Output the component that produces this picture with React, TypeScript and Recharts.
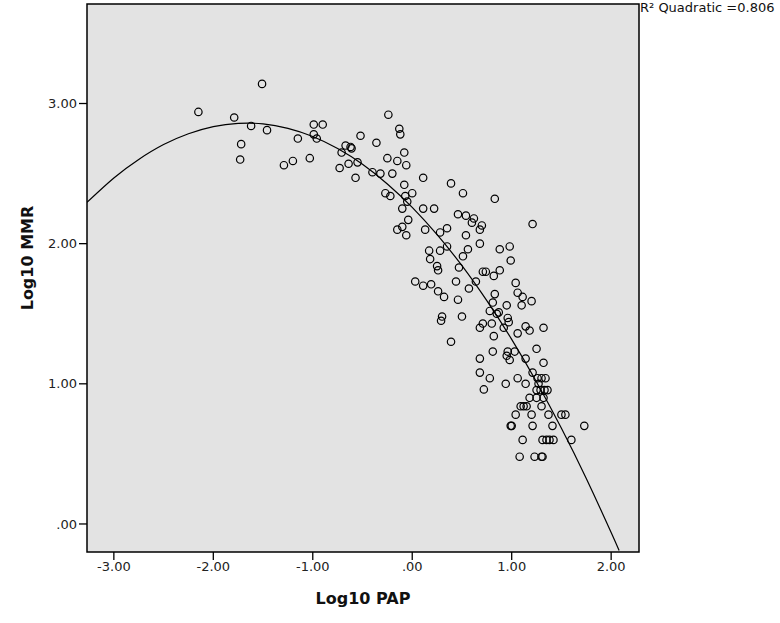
import {
  ComposedChart,
  CartesianGrid,
  XAxis,
  YAxis,
  Scatter,
  Line,
  ReferenceArea,
  Label,
} from "recharts";

// Log10 PAP vs Log10 MMR, with the quadratic fit line (R² = 0.806).

const PAP_MMR: [number, number][] = [
  [-2.15, 2.94], [-1.79, 2.9], [-1.62, 2.84], [-1.51, 3.14], [-1.46, 2.81],
  [-1.72, 2.71], [-1.73, 2.6], [-1.29, 2.56], [-1.2, 2.59], [-1.03, 2.61],
  [-1.15, 2.75], [-0.99, 2.85], [-0.9, 2.85], [-0.99, 2.78], [-0.96, 2.75],
  [-0.24, 2.92], [-0.13, 2.82], [-0.12, 2.78], [-0.52, 2.77], [-0.36, 2.72],
  [-0.67, 2.7], [-0.62, 2.69], [-0.61, 2.68], [-0.71, 2.65], [-0.08, 2.65],
  [-0.25, 2.61], [-0.15, 2.59], [-0.06, 2.56], [-0.64, 2.57], [-0.55, 2.58],
  [-0.73, 2.54], [-0.4, 2.51], [-0.32, 2.5], [-0.2, 2.5], [-0.57, 2.47],
  [0.11, 2.47], [0.39, 2.43], [-0.08, 2.42], [0.51, 2.36], [0.0, 2.36],
  [-0.27, 2.36], [-0.22, 2.34], [-0.07, 2.34], [0.83, 2.32], [-0.05, 2.3],
  [-0.1, 2.25], [0.11, 2.25], [0.22, 2.25], [0.46, 2.21], [0.54, 2.2],
  [0.62, 2.18], [0.6, 2.15], [0.7, 2.13], [0.68, 2.1], [-0.04, 2.17],
  [-0.1, 2.12], [-0.15, 2.1], [-0.06, 2.06], [0.13, 2.1], [0.28, 2.08],
  [0.35, 2.11], [0.54, 2.06], [0.68, 2.0], [0.35, 1.98], [0.88, 1.96],
  [0.98, 1.98], [0.99, 1.88], [0.56, 1.96], [0.17, 1.95], [0.28, 1.95],
  [0.18, 1.89], [0.51, 1.91], [0.47, 1.83], [0.25, 1.84], [0.26, 1.81],
  [0.71, 1.8], [0.74, 1.8], [0.88, 1.81], [0.82, 1.77],
  [1.21, 2.14], [0.03, 1.73], [0.11, 1.7], [0.19, 1.71], [0.44, 1.73],
  [0.64, 1.73], [0.57, 1.68], [0.26, 1.66], [0.32, 1.62], [0.46, 1.6],
  [0.83, 1.64], [1.04, 1.72], [1.06, 1.65], [1.11, 1.62], [1.2, 1.59],
  [0.81, 1.58], [0.95, 1.56], [1.1, 1.56], [0.78, 1.52], [0.85, 1.5],
  [0.87, 1.51], [0.96, 1.47], [0.97, 1.44], [0.8, 1.43], [0.71, 1.43],
  [0.68, 1.4], [0.92, 1.4], [1.14, 1.41], [1.18, 1.38], [1.32, 1.4],
  [1.06, 1.36], [0.82, 1.34], [0.3, 1.48], [0.29, 1.45], [0.5, 1.48],
  [0.39, 1.3], [1.25, 1.25], [0.81, 1.23], [0.96, 1.23], [1.03, 1.23],
  [0.95, 1.2], [0.98, 1.17], [0.68, 1.18], [1.14, 1.18], [1.32, 1.15],
  [0.68, 1.08], [0.78, 1.04], [0.94, 1.0], [1.06, 1.04], [1.14, 1.0],
  [1.21, 1.08], [0.72, 0.96],
  [1.26, 1.04], [1.3, 1.04], [1.34, 1.04], [1.27, 1.0], [1.25, 0.955],
  [1.29, 0.955], [1.33, 0.955], [1.36, 0.955], [1.18, 0.9], [1.25, 0.9],
  [1.32, 0.9], [1.3, 0.84], [1.09, 0.84], [1.12, 0.84], [1.15, 0.84],
  [1.04, 0.78], [1.2, 0.78], [1.37, 0.78], [1.5, 0.78], [1.54, 0.78],
  [0.99, 0.7], [1.0, 0.7], [1.21, 0.7], [1.41, 0.7], [1.73, 0.7],
  [1.11, 0.6], [1.31, 0.6], [1.35, 0.6], [1.38, 0.6], [1.42, 0.6],
  [1.6, 0.6], [1.08, 0.48], [1.23, 0.48], [1.3, 0.48], [1.31, 0.48],
];

// fit line
const FIT_PAP = [
  -3.27, -3.0, -2.75, -2.5, -2.25, -2.0, -1.75, -1.5, -1.25, -1.0, -0.75, -0.5,
  -0.25, 0, 0.25, 0.5, 0.75, 1.0, 1.25, 1.5, 1.75, 2.0, 2.08,
];
const FIT_MMR = [
  2.295, 2.469, 2.601, 2.707, 2.784, 2.835, 2.858, 2.855, 2.823, 2.765, 2.679,
  2.567, 2.426, 2.259, 2.064, 1.843, 1.593, 1.317, 1.013, 0.683, 0.324, -0.061,
  -0.19,
];

const X_TICKS = [-3, -2, -1, 0, 1, 2];
const Y_TICKS = [0, 1, 2, 3];
const X_DOMAIN: [number, number] = [-3.27, 2.28];
const Y_DOMAIN: [number, number] = [-0.2, 3.71];

const FONT = "'DejaVu Sans', sans-serif";

function fmt(v: number): string {
  return v === 0 ? ".00" : v.toFixed(2);
}

function Ring(props: any) {
  const { cx, cy } = props;
  if (cx == null || cy == null) return null;
  return <circle cx={cx} cy={cy} r={3.7} fill="none" stroke="#000" strokeWidth={1.2} />;
}

export default function App() {
  const points = PAP_MMR.map(([x, y]) => ({ x, y }));
  const fit = FIT_PAP.map((x, i) => ({ x, y: FIT_MMR[i] }));

  return (
    <div style={{ position: "absolute", left: 0, top: 0, width: 780, height: 623, background: "#fff" }}>
      <ComposedChart
        width={780}
        height={623}
        margin={{ top: 4, right: 141, bottom: 41, left: 27 }}
      >
        <CartesianGrid horizontal={false} vertical={false} fill="#e3e3e3" />
        <XAxis
          dataKey="x"
          type="number"
          domain={X_DOMAIN}
          ticks={X_TICKS}
          allowDataOverflow
          tickFormatter={fmt}
          axisLine={false}
          tickLine={{ stroke: "#000", strokeWidth: 1.3 }}
          tickSize={8}
          tickMargin={2}
          height={30}
          tick={{ fill: "#222", fontSize: 13, fontFamily: FONT }}
        >
          <Label
            content={() => (
              <text x={363} y={604} textAnchor="middle" fontFamily={FONT} fontWeight="bold" fontSize={16} fill="#111">
                Log10 PAP
              </text>
            )}
          />
        </XAxis>
        <YAxis
          dataKey="y"
          type="number"
          domain={Y_DOMAIN}
          ticks={Y_TICKS}
          allowDataOverflow
          tickFormatter={fmt}
          axisLine={false}
          tickLine={{ stroke: "#000", strokeWidth: 1.3 }}
          tickSize={8}
          tickMargin={2}
          width={60}
          tick={{ fill: "#222", fontSize: 13, fontFamily: FONT }}
        >
          <Label
            content={() => (
              <text
                x={33}
                y={258}
                transform="rotate(-90 33 258)"
                textAnchor="middle"
                fontFamily={FONT}
                fontWeight="bold"
                fontSize={16}
                fill="#111"
              >
                Log10 MMR
              </text>
            )}
          />
        </YAxis>
        <Scatter data={points} shape={Ring} isAnimationActive={false} />
        <Line
          data={fit}
          dataKey="y"
          type="natural"
          dot={false}
          activeDot={false}
          stroke="#000"
          strokeWidth={1.2}
          isAnimationActive={false}
        />
        <ReferenceArea
          x1={X_DOMAIN[0]}
          x2={X_DOMAIN[1]}
          y1={Y_DOMAIN[0]}
          y2={Y_DOMAIN[1]}
          fill="none"
          stroke="#000"
          strokeWidth={1.5}
          ifOverflow="visible"
        />
      </ComposedChart>
      <div
        style={{
          position: "absolute",
          left: 640,
          top: 0,
          fontFamily: FONT,
          fontSize: 13,
          lineHeight: "16px",
          whiteSpace: "pre",
          color: "#111",
        }}
      >
        {"R² Quadratic =0.806"}
      </div>
    </div>
  );
}
